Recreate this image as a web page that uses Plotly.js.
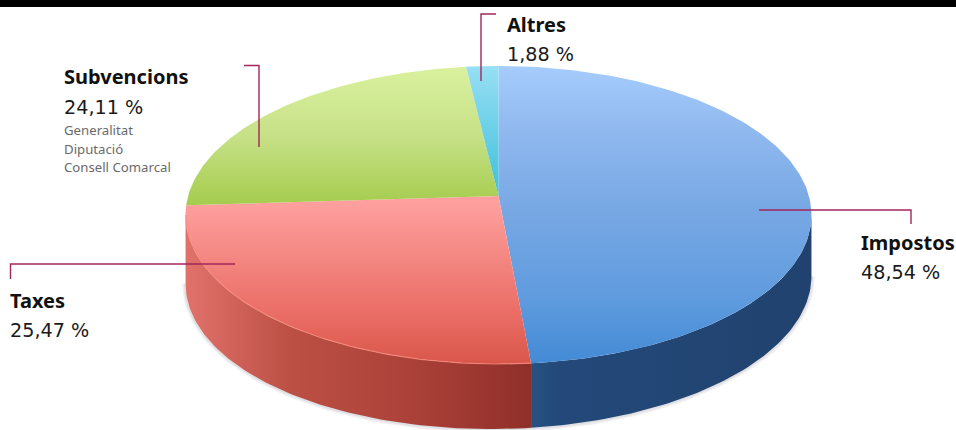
<!DOCTYPE html>
<html>
<head>
<meta charset="utf-8">
<script src="https://cdn.plot.ly/plotly-3.0.1.min.js"></script>
<style>html,body{margin:0;padding:0;background:#fff}#chart{width:956px;height:430px}</style>
</head>
<body>
<div id="chart"></div>
<script>
// ---- data ----
const categories = ['Impostos', 'Taxes', 'Subvencions', 'Altres'];
const shares = [48.54, 25.47, 24.11, 1.88];
const subItems = ['Generalitat', 'Diputació', 'Consell Comarcal'];

// ---- perspective disc geometry (pixel-like axis units) ----
const apexX = 498.5, apexY = 196, radX = 310.4, radY = 146.6, persp = 0.1275;
const wallBase = 65, wallTilt = 0.012;

function rim(deg) {
  const t = deg * Math.PI / 180, u = Math.sin(t), v = Math.cos(t), w = 1 + persp * v;
  return [apexX + radX * u / w, apexY - radY * v / w];
}
function rimLow(deg) {
  const p = rim(deg);
  return [p[0], p[1] + wallBase - wallTilt * (p[0] - apexX)];
}
function arc(from, to, fn) {
  const out = [], n = Math.max(2, Math.ceil(Math.abs(to - from)));
  for (let i = 0; i <= n; i++) out.push(fn(from + (to - from) * i / n));
  return out;
}
function poly(points) { return { x: points.map(p => p[0]), y: points.map(p => p[1]) }; }

const topScales = [
  [[0,'#a6ccfc'],[0.22,'#8fb8ef'],[0.48,'#78a8e4'],[0.78,'#5f9bde'],[1,'#438ad5']],
  [[0,'#fe9f9e'],[0.4,'#f2827c'],[0.72,'#e96b63'],[1,'#d9564a']],
  [[0,'#daf19e'],[0.5,'#c7e188'],[1,'#a5cc4e']],
  [[0,'#97dff4'],[1,'#3fc0da']]
];
const topRange = [[66, 364], [204, 364], [66, 205], [66, 196]];
const wallScales = [
  [[0,'#265282'],[0.1,'#23497a'],[1,'#21426e']],
  [[0,'#e0726b'],[0.3,'#bd5045'],[0.7,'#a83f36'],[1,'#8f2f29']]
];

const edges = [];
shares.reduce((sum, s) => { edges.push([sum * 3.6, (sum + s) * 3.6]); return sum + s; }, 0);

// the rim silhouette turns at these angles (clockwise from the top)
const turnRight = 90 + Math.asin(persp) * 180 / Math.PI;
const turnLeft = 360 - turnRight;
const traces = [];

// soft shadow round the wall
[7, 3.5].forEach(w => {
  const shadow = poly(arc(turnRight, turnLeft, rimLow));
  traces.push({ x: shadow.x, y: shadow.y, mode: 'lines', hoverinfo: 'skip',
    line: { color: 'rgba(80,80,100,0.09)', width: w } });
});

// side wall: only the slices that reach the front of the disc
[[turnRight, edges[0][1]], [edges[1][0], turnLeft]].forEach((r, i) => {
  const p = poly(arc(r[0], r[1], rim).concat(arc(r[1], r[0], rimLow)));
  traces.push({ x: p.x, y: p.y, mode: 'lines', fill: 'toself', line: { width: 0 }, hoverinfo: 'skip',
    fillgradient: { type: 'horizontal', colorscale: wallScales[i],
      start: i === 0 ? rim(edges[0][1])[0] : rim(turnLeft)[0],
      stop: i === 0 ? rim(turnRight)[0] : rim(edges[1][0])[0] } });
});

// top face
edges.forEach((e, i) => {
  const p = poly([[apexX, apexY]].concat(arc(e[0], e[1], rim)));
  traces.push({ x: p.x, y: p.y, mode: 'lines', fill: 'toself', line: { width: 0 }, hoverinfo: 'skip',
    fillgradient: { type: 'vertical', colorscale: topScales[i], start: topRange[i][0], stop: topRange[i][1] } });
});

// lit edge along the front of the red slice
const redEdge = poly(arc(edges[1][0], turnLeft, rim));
traces.push({ x: redEdge.x, y: redEdge.y, mode: 'lines', hoverinfo: 'skip',
  line: { color: 'rgba(245,140,125,0.75)', width: 1.2 } });

// leader lines
const leaderColor = '#a3265c';
const leaders = [
  { x: [235, 10.5, 10.5], y: [264, 264, 279] },
  { x: [244, 259, 259], y: [65.5, 65.5, 147] },
  { x: [496, 481, 481], y: [14, 14, 81] },
  { x: [759, 911, 911], y: [210, 210, 224] }
];
leaders.forEach(l => traces.push({ x: l.x, y: l.y, mode: 'lines', hoverinfo: 'skip',
  line: { color: leaderColor, width: 1.4 } }));

const headFont = '"Noto Sans", sans-serif';
const numFont = '"DejaVu Sans", sans-serif';
const pct = categories.map((c, i) => shares[i].toFixed(2).replace('.', ',') + ' %');
function label(text, x, base, size, color, fam, bold) {
  return { text: bold ? '<b>' + text + '</b>' : text, x: x, y: base, xref: 'x', yref: 'y',
    xanchor: 'left', yanchor: 'bottom', showarrow: false, borderpad: 0, xshift: -1,
    yshift: -size * 0.28, font: { family: fam, size: size, color: color } };
}
const annotations = [
  label(categories[0], 861, 251, 20, '#111', headFont, true),
  label(pct[0], 861, 280, 19.2, '#1a1a1a', numFont, false),
  label(categories[1], 10, 309, 20, '#111', headFont, true),
  label(pct[1], 10, 338, 19.2, '#1a1a1a', numFont, false),
  label(categories[2], 64, 85, 20, '#111', headFont, true),
  label(pct[2], 64, 115, 19.2, '#1a1a1a', numFont, false),
  label(subItems[0], 64, 136, 13.2, '#6a6a6a', headFont, false),
  label(subItems[1], 64, 155, 13.2, '#6a6a6a', headFont, false),
  label(subItems[2], 64, 173, 13.2, '#6a6a6a', headFont, false),
  label(categories[3], 507, 33, 20, '#111', headFont, true),
  label(pct[3], 507, 62, 19.2, '#1a1a1a', numFont, false)
];

const layout = {
  width: 956, height: 430, margin: { l: 0, r: 0, t: 0, b: 0 },
  paper_bgcolor: '#fff', plot_bgcolor: '#fff', showlegend: false,
  xaxis: { range: [0, 956], visible: false, fixedrange: true },
  yaxis: { range: [430, 0], visible: false, fixedrange: true },
  annotations: annotations,
  shapes: [{ type: 'rect', xref: 'paper', yref: 'y', x0: 0, x1: 1, y0: 0, y1: 7,
    fillcolor: '#000', line: { width: 0 } }]
};
Plotly.newPlot('chart', traces, layout, { displayModeBar: false, responsive: false });
</script>
</body>
</html>
